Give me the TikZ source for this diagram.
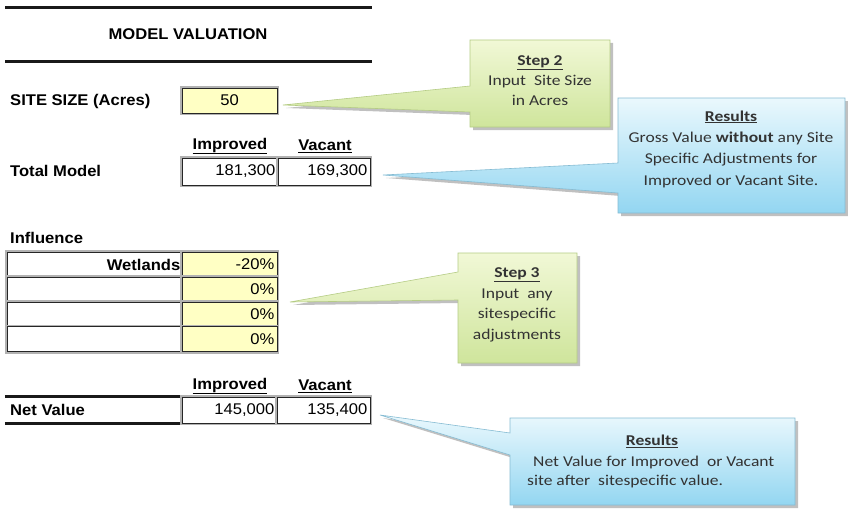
\documentclass[tikz,border=0pt]{standalone}
\usepackage{fontspec}
\setmainfont{Liberation Sans}[FakeStretch=1.07]
\newfontfamily\callfont{Carlito}[FakeStretch=1.17]
\usetikzlibrary{shadows}
\definecolor{cellyellow}{HTML}{FFFFC4}
\definecolor{gtop}{HTML}{F1F8D6}
\definecolor{gbot}{HTML}{CFE59C}
\definecolor{btop}{HTML}{EAF8FD}
\definecolor{bbot}{HTML}{93D6F1}
\definecolor{gedge}{HTML}{B5CC85}
\definecolor{bedge}{HTML}{86BCD3}
\tikzset{
  lbl/.style={font=\fontsize{15.5}{18}\selectfont\bfseries, inner sep=0pt, anchor=west},
  val/.style={font=\fontsize{15.5}{18}\selectfont, inner sep=0pt, anchor=east},
  hdr/.style={font=\fontsize{15.5}{18}\selectfont\bfseries, inner sep=0pt},
  cellbox/.style={draw=black!85, line width=1pt, preaction={draw=gray!60, line width=4pt}, inner sep=0pt},
  ycell/.style={cellbox, fill=cellyellow},
  wcell/.style={cellbox, fill=white},
  thickrule/.style={line width=3pt, black!90},
  greencall/.style={top color=gtop, bottom color=gbot, draw=gedge, line width=0.6pt,
    drop shadow={shadow xshift=3pt, shadow yshift=-3pt, opacity=0.35, fill=black!70}},
  bluecall/.style={top color=btop, bottom color=bbot, draw=bedge, line width=0.6pt,
    drop shadow={shadow xshift=3pt, shadow yshift=-3pt, opacity=0.35, fill=black!70}},
  calltext/.style={font=\callfont\fontsize{15}{20}\selectfont, inner sep=0pt, align=center, text=black!80},
}
\begin{document}
\begin{tikzpicture}[x=1pt,y=-1pt]
\useasboundingbox (0,0) rectangle (848,527);
\fill[white] (0,0) rectangle (848,527);

% title
\draw[thickrule] (5,8) -- (372,8);
\draw[thickrule] (5,62) -- (372,62);
\node[hdr] (title) at (188,34) {MODEL VALUATION};

% site size
\node[lbl] (sitelbl) at (10,101) {SITE SIZE (Acres)};
\node[ycell, minimum width=95pt, minimum height=25pt] (site) at (229.5,100.5) {};
\node[val, anchor=center] (siteval) at (site.center) {50};

% total model
\node[hdr] (h1) at (230,146) {\underline{Improved}};
\node[hdr] (h2) at (325,146) {\underline{Vacant}};
\node[lbl] (tmlbl) at (10,171) {Total Model};
\node[wcell, minimum width=96pt, minimum height=27pt] (tmimp) at (230,171.5) {};
\node[wcell, minimum width=92pt, minimum height=27pt] (tmvac) at (324,171.5) {};
\node[val] (tmimpv) at ([xshift=-3pt]tmimp.east) {181,300};
\node[val] (tmvacv) at ([xshift=-3pt]tmvac.east) {169,300};

% influence
\node[lbl] (inflbl) at (10,238) {Influence};
\node[wcell, minimum width=175pt, minimum height=25pt] (l1) at (94.5,264.5) {};
\node[wcell, minimum width=175pt, minimum height=25pt] (l2) at (94.5,289.5) {};
\node[wcell, minimum width=175pt, minimum height=25pt] (l3) at (94.5,314.5) {};
\node[wcell, minimum width=175pt, minimum height=25pt] (l4) at (94.5,339) {};
\node[ycell, minimum width=95pt, minimum height=25pt] (p1) at (229.5,264.5) {};
\node[ycell, minimum width=95pt, minimum height=25pt] (p2) at (229.5,289.5) {};
\node[ycell, minimum width=95pt, minimum height=25pt] (p3) at (229.5,314.5) {};
\node[ycell, minimum width=95pt, minimum height=25pt] (p4) at (229.5,339) {};
\node[val, font=\fontsize{15.5}{18}\selectfont\bfseries] (wet) at ([xshift=-2pt]l1.east) {Wetlands};
\node[val] (p1v) at ([xshift=-3pt]p1.east) {-20\%};
\node[val] (p2v) at ([xshift=-3pt]p2.east) {0\%};
\node[val] (p3v) at ([xshift=-3pt]p3.east) {0\%};
\node[val] (p4v) at ([xshift=-3pt]p4.east) {0\%};

% net value
\node[hdr] (h3) at (230,386) {\underline{Improved}};
\node[hdr] (h4) at (325,386) {\underline{Vacant}};
\node[minimum width=177pt, minimum height=26pt, inner sep=0pt] (nvlab) at (93.5,410) {};
\draw[thickrule] (nvlab.north west) -- (nvlab.north east);
\draw[thickrule] (nvlab.south west) -- (nvlab.south east);
\node[lbl] (nvlbl) at (10,410) {Net Value};
\node[wcell, minimum width=95pt, minimum height=26pt] (nvimp) at (229.5,410) {};
\node[wcell, minimum width=93pt, minimum height=26pt] (nvvac) at (323.5,410) {};
\node[val] (nvimpv) at ([xshift=-3pt]nvimp.east) {145,000};
\node[val] (nvvacv) at ([xshift=-3pt]nvvac.east) {135,400};

% callout tips
\coordinate (tip2) at (283,105);
\coordinate (tipr1) at (383,175);
\coordinate (tip3) at (290,302);
\coordinate (tipr2) at (380,415);

% Step 2 callout
\path[greencall] (tip2) -- (470,86) -- (470,40) -- (610,40) -- (610,127) -- (470,127) -- (470,112) -- cycle;
\node[calltext] (s2text) at (540,81) {\textbf{\underline{Step 2}}\\Input\ \ Site Size\\in Acres};

% Results 1 callout
\path[bluecall] (tipr1) -- (618,163) -- (618,98) -- (845,98) -- (845,213) -- (618,213) -- (618,193) -- cycle;
\node[calltext, font=\callfont\fontsize{15}{21.3}\selectfont] (r1text) at (731,149) {\textbf{\underline{Results}}\\Gross Value \textbf{without} any Site\\Specific Adjustments for\\Improved or Vacant Site.};

% Step 3 callout
\path[greencall] (tip3) -- (458,272) -- (458,253) -- (577,253) -- (577,363) -- (458,363) -- (458,300) -- cycle;
\node[calltext, font=\callfont\fontsize{15}{20.7}\selectfont] (s3text) at (517,305) {\textbf{\underline{Step 3}}\\Input\ \ any\\sitespecific\\adjustments};

% Results 2 callout
\path[bluecall] (tipr2) -- (510,433) -- (510,418) -- (795,418) -- (795,505) -- (510,505) -- (510,455) -- cycle;
\node[calltext] (r2head) at (652,441) {\textbf{\underline{Results}}};
\node[calltext, anchor=west] (r2l1) at (533,462) {Net Value for Improved\ \ or Vacant};
\node[calltext, anchor=west] (r2l2) at (527,481) {site after\ \ sitespecific value.};
\end{tikzpicture}
\end{document}
